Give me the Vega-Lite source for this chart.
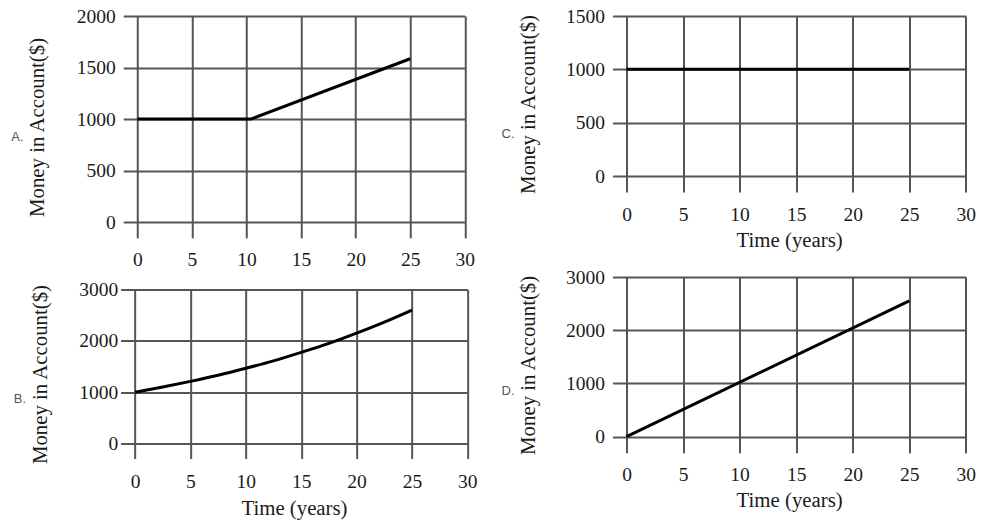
{
  "$schema": "https://vega.github.io/schema/vega-lite/v6.json",
  "background": "white",
  "padding": {"left": 10.5, "top": 6, "right": 5, "bottom": 5},
  "config": {
    "view": {"stroke": null},
    "axis": {
      "labelFont": "Liberation Serif",
      "titleFont": "Liberation Serif",
      "labelFontSize": 19.5,
      "titleFontSize": 20.8,
      "titleFontWeight": "normal",
      "labelColor": "#1a1a1a",
      "titleColor": "#1a1a1a",
      "grid": true,
      "gridColor": "#555",
      "gridWidth": 2,
      "gridOpacity": 1,
      "domain": false,
      "ticks": false
    },
    "title": {"font": "Liberation Sans", "fontSize": 13, "fontWeight": "normal", "color": "#555"}
  },
  "datasets": {
    "a": [{"t": 0, "money": 1000}, {"t": 10.4, "money": 1000}, {"t": 25, "money": 1585}],
    "b": [{"t": 0, "money": 1000}, {"t": 2.5, "money": 1100}, {"t": 5, "money": 1210}, {"t": 7.5, "money": 1330}, {"t": 10, "money": 1465}, {"t": 12.5, "money": 1610}, {"t": 15, "money": 1775}, {"t": 17.5, "money": 1950}, {"t": 20, "money": 2150}, {"t": 22.5, "money": 2365}, {"t": 25, "money": 2600}],
    "c": [{"t": 0, "money": 1000}, {"t": 25, "money": 1000}],
    "d": [{"t": 0, "money": 0}, {"t": 25, "money": 2550}]
  },
  "bounds": "flush",
  "spacing": 492,
  "hconcat": [
    {
      "bounds": "flush",
      "spacing": 51.5,
      "center": true,
      "vconcat": [
        {
          "width": 341.5, "height": 221.8,
          "title": {"text": "A.", "orient": "left", "angle": 0, "anchor": "middle", "baseline": "middle", "offset": 0, "dx": 3, "dy": 10},
          "data": {"name": "a"},
          "mark": {"type": "line", "color": "#000", "strokeWidth": 3, "clip": true},
          "encoding": {
            "x": {"field": "t", "type": "quantitative", "scale": {"domain": [-1.3, 30], "nice": false, "zero": false},
                  "axis": {"title": null, "values": [0, 5, 10, 15, 20, 25, 30], "format": "d", "labelPadding": 13, "labelFlush": false}},
            "y": {"field": "money", "type": "quantitative", "scale": {"domain": [-152, 2000], "nice": false, "zero": false},
                  "axis": {"title": "Money in Account($)", "values": [0, 500, 1000, 1500, 2000], "format": "d", "labelPadding": 8, "titlePadding": 28.5, "labelFlush": false}}
          }
        },
        {
          "width": 346.7, "height": 169,
          "title": {"text": "B.", "orient": "left", "angle": 0, "anchor": "middle", "baseline": "middle", "offset": 0, "dx": 3, "dy": 25},
          "data": {"name": "b"},
          "mark": {"type": "line", "color": "#000", "strokeWidth": 3, "interpolate": "monotone", "clip": true},
          "encoding": {
            "x": {"field": "t", "type": "quantitative", "scale": {"domain": [-1.3, 30], "nice": false, "zero": false},
                  "axis": {"title": "Time (years)", "values": [0, 5, 10, 15, 20, 25, 30], "format": "d", "labelPadding": 13.5, "titlePadding": 7.5, "labelFlush": false}},
            "y": {"field": "money", "type": "quantitative", "scale": {"domain": [-292, 3000], "nice": false, "zero": false},
                  "axis": {"title": "Money in Account($)", "values": [0, 1000, 2000, 3000], "format": "d", "labelPadding": 3, "titlePadding": 28.5, "labelFlush": false}}
          }
        }
      ]
    },
    {
      "bounds": "flush",
      "spacing": 85,
      "vconcat": [
        {
          "width": 353.3, "height": 176,
          "title": {"text": "C.", "orient": "left", "angle": 0, "anchor": "middle", "baseline": "middle", "offset": 0, "dx": 4, "dy": 30},
          "data": {"name": "c"},
          "mark": {"type": "line", "color": "#000", "strokeWidth": 3, "clip": true},
          "encoding": {
            "x": {"field": "t", "type": "quantitative", "scale": {"domain": [-1.24, 30], "nice": false, "zero": false},
                  "axis": {"title": "Time (years)", "values": [0, 5, 10, 15, 20, 25, 30], "format": "d", "labelPadding": 13.5, "titlePadding": 6, "labelFlush": false}},
            "y": {"field": "money", "type": "quantitative", "scale": {"domain": [-150, 1500], "nice": false, "zero": false},
                  "axis": {"title": "Money in Account($)", "values": [0, 500, 1000, 1500], "format": "d", "labelPadding": 8, "titlePadding": 27.5, "labelFlush": false}}
          }
        },
        {
          "width": 353.3, "height": 175.7,
          "title": {"text": "D.", "orient": "left", "angle": 0, "anchor": "middle", "baseline": "middle", "offset": 0, "dx": 4, "dy": 26},
          "data": {"name": "d"},
          "mark": {"type": "line", "color": "#000", "strokeWidth": 3, "clip": true},
          "encoding": {
            "x": {"field": "t", "type": "quantitative", "scale": {"domain": [-1.24, 30], "nice": false, "zero": false},
                  "axis": {"title": "Time (years)", "values": [0, 5, 10, 15, 20, 25, 30], "format": "d", "labelPadding": 13, "titlePadding": 6, "labelFlush": false}},
            "y": {"field": "money", "type": "quantitative", "scale": {"domain": [-300, 3000], "nice": false, "zero": false},
                  "axis": {"title": "Money in Account($)", "values": [0, 1000, 2000, 3000], "format": "d", "labelPadding": 8, "titlePadding": 27.5, "labelFlush": false}}
          }
        }
      ]
    }
  ]
}
